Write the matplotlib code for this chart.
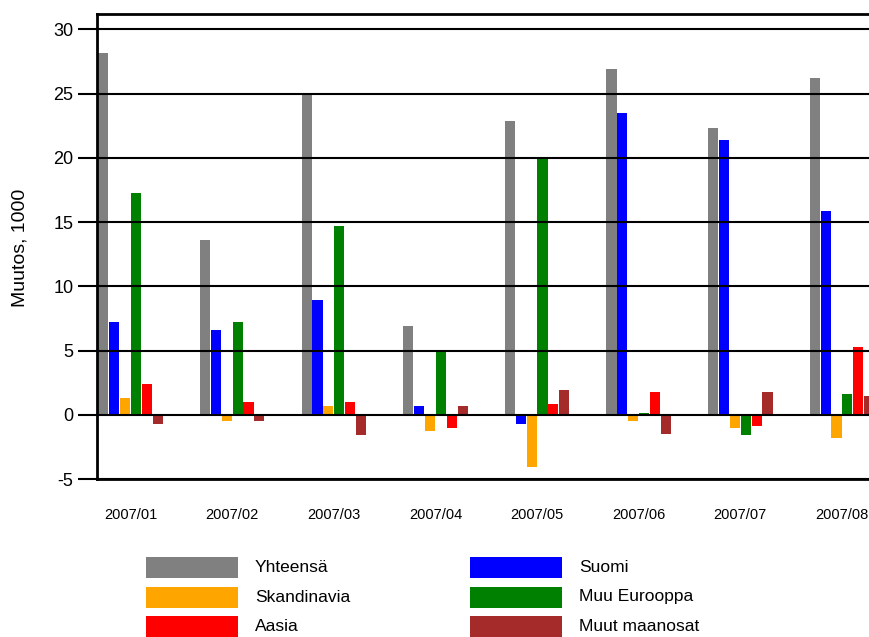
import matplotlib.pyplot as plt
from matplotlib.patches import Rectangle
import numpy as np

plt.rcParams['font.family'] = ['Liberation Sans', 'DejaVu Sans']
plt.rcParams['axes.unicode_minus'] = False

# Data (thousands)
months = ['2007/01', '2007/02', '2007/03', '2007/04', '2007/05', '2007/06', '2007/07', '2007/08']
yhteensa = [28.2, 13.6, 25.0, 6.9, 22.9, 26.9, 22.3, 26.2]
suomi = [7.2, 6.6, 8.9, 0.7, -0.7, 23.5, 21.4, 15.9]
skandinavia = [1.3, -0.5, 0.7, -1.3, -4.1, -0.5, -1.0, -1.8]
muu_eurooppa = [17.3, 7.2, 14.7, 5.0, 20.0, 0.1, -1.6, 1.6]
aasia = [2.4, 1.0, 1.0, -1.0, 0.8, 1.8, -0.9, 5.3]
muut_maanosat = [-0.7, -0.5, -1.6, 0.7, 1.9, -1.5, 1.8, 1.5]

series = [
    ('Yhteensä', yhteensa, '#808080'),
    ('Suomi', suomi, '#0000FF'),
    ('Skandinavia', skandinavia, '#FFA500'),
    ('Muu Eurooppa', muu_eurooppa, '#008000'),
    ('Aasia', aasia, '#FF0000'),
    ('Muut maanosat', muut_maanosat, '#A52A2A'),
]

fig = plt.figure(figsize=(8.69, 6.37), dpi=100)
# axes runs off the right edge of the figure, like the reference
ax = fig.add_axes([97 / 869, 158 / 637, 813 / 869, 465 / 637])

x = np.arange(len(months))
slot = 0.107
for i, (name, vals, col) in enumerate(series):
    ax.bar(x + (i - 2.5) * slot, vals, width=0.1, color=col, zorder=1)

ax.set_xlim(-0.33, 7.67)
ax.set_ylim(-5, 31.2)
ax.set_yticks(range(-5, 31, 5))
ax.set_xticks(x)
ax.set_xticklabels(months, fontsize=10.5)
ax.tick_params(axis='x', length=0, pad=21)
ax.tick_params(axis='y', labelsize=13, length=14, width=1.5, pad=3)

# black grid lines over the bars
ax.set_axisbelow(False)
ax.yaxis.grid(True, color='black', linewidth=1.5)

for s in ['left', 'top', 'bottom']:
    ax.spines[s].set_linewidth(2)
    ax.spines[s].set_color('black')
ax.spines['right'].set_visible(False)

fig.text(20 / 869, 1 - 248 / 637, 'Muutos, 1000', rotation=90,
         ha='center', va='center', fontsize=14)

# legend: two columns of colour patches and labels
legend_order = [0, 2, 4, 1, 3, 5]
col_x = [146, 470]
row_y = [567.5, 597, 626.5]
for k, idx in enumerate(legend_order):
    name, vals, col = series[idx]
    cx = col_x[k // 3]
    cy = row_y[k % 3]
    fig.add_artist(Rectangle((cx / 869, 1 - (cy + 10.5) / 637), 92 / 869, 21 / 637,
                             transform=fig.transFigure, facecolor=col, edgecolor='none'))
    fig.text((cx + 109) / 869, 1 - cy / 637, name, ha='left', va='center', fontsize=12.5)

fig.savefig('out.png', dpi=100)
